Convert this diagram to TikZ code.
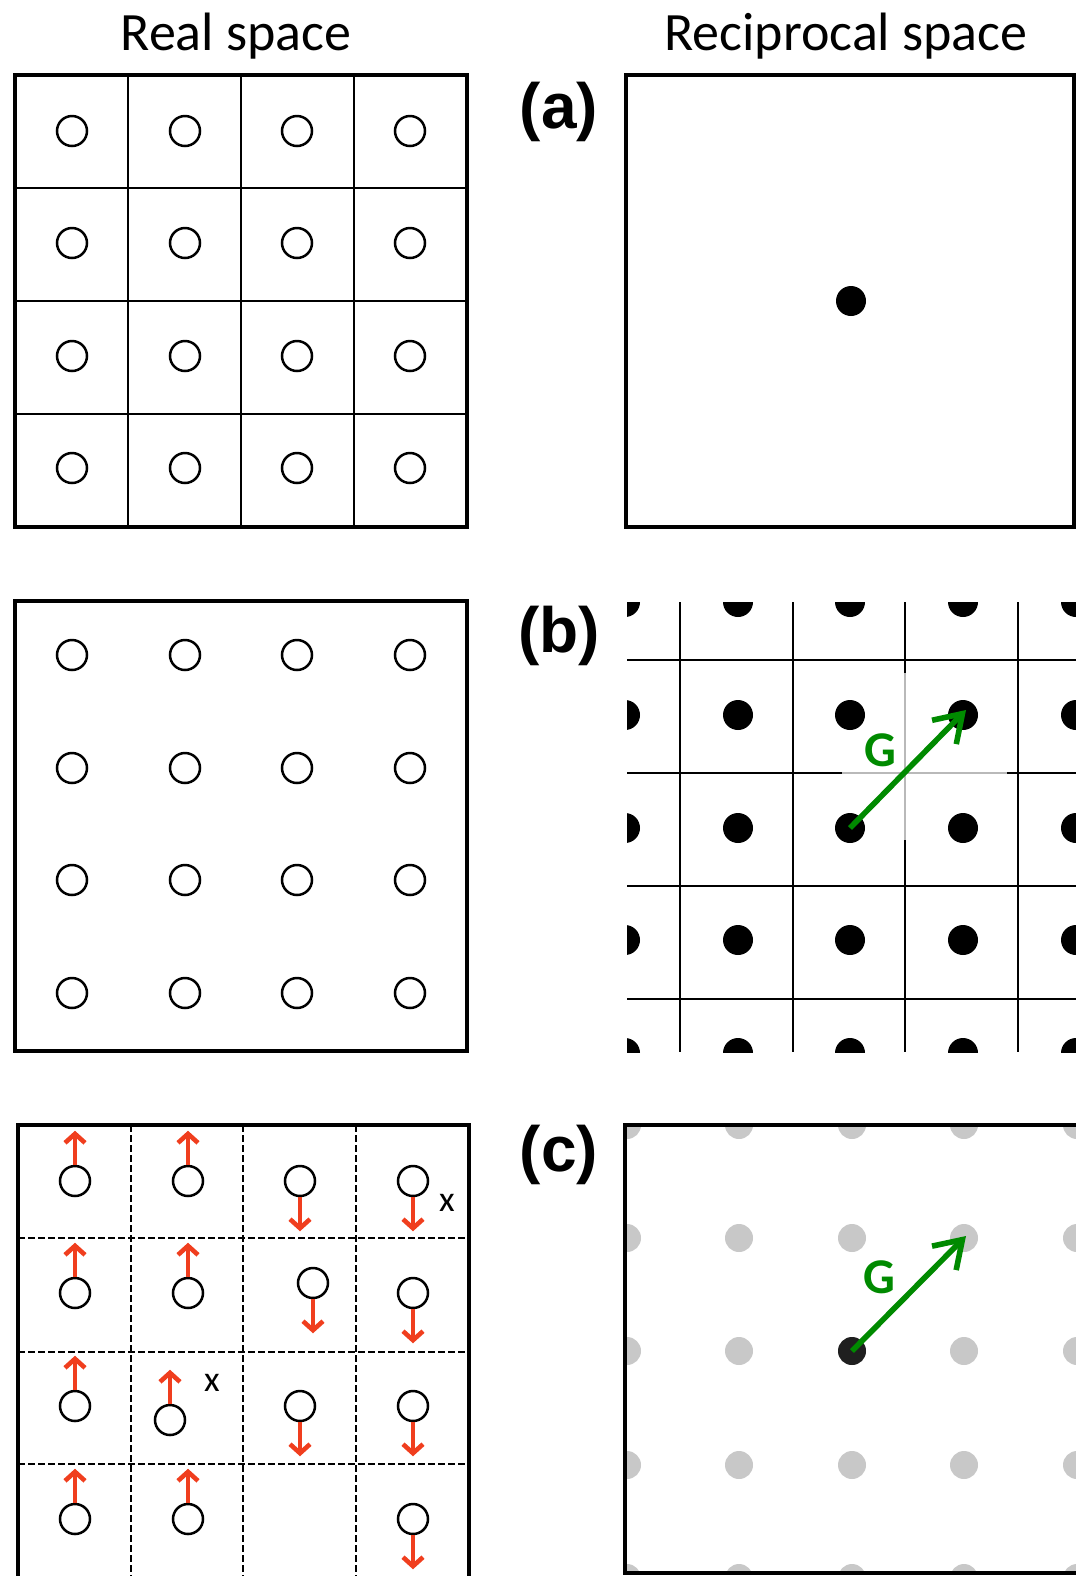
\documentclass[tikz,border=0pt]{standalone}
\usepackage{fontspec}
\setmainfont{Carlito}
\newfontfamily\arialfont{Liberation Sans}
\usetikzlibrary{arrows.meta}

\definecolor{spinred}{RGB}{240,62,30}
\definecolor{vecgreen}{RGB}{0,138,0}
\definecolor{spotgray}{RGB}{200,200,200}

\tikzset{
  ramec/.style={line width=1.6pt},
  bunka/.style={line width=1.4pt},
  carka/.style={line width=0.8pt, dash pattern=on 3.5pt off 1.5pt},
  atom/.style={circle, draw, line width=1.25pt, minimum size=15pt, inner sep=0pt},
  bod/.style={circle, fill=black, minimum size=15pt, inner sep=0pt},
  sedybod/.style={circle, fill=spotgray, minimum size=14pt, inner sep=0pt},
  spin/.style={draw=spinred, line width=2.3pt, -{Straight Barb[length=4.5pt,width=10pt]}},
  vektor/.style={draw=vecgreen, line width=2.8pt, -{Straight Barb[length=13pt,width=17pt]}},
  nadpis/.style={anchor=base, font=\fontsize{27}{32}\selectfont},
  panel/.style={font=\arialfont\bfseries\fontsize{32}{36}\selectfont},
  glabel/.style={text=vecgreen, font=\bfseries\fontsize{25}{30}\selectfont},
  xlabel/.style={font=\fontsize{18}{20}\selectfont}
}

\begin{document}
\begin{tikzpicture}[x=0.5pt, y=-0.5pt]
        \useasboundingbox (0,0) rectangle (1076,1576);

        % nadpisy
        \node[nadpis] (treal) at (236,50) {Real space};
        \node[nadpis] (trec) at (846,50) {Reciprocal space};

        % oznaceni panelu
        \node[panel] (pa) at (559,112) {(a)};
        \node[panel] (pb) at (559,636) {(b)};
        \node[panel] (pc) at (559,1155) {(c)};

        % (a) realny prostor
        \draw[ramec] (15,75) rectangle (467,527);
        \foreach \x in {128,241,354} \draw[bunka] (\x,75) -- (\x,527);
        \foreach \y in {188,301,414} \draw[bunka] (15,\y) -- (467,\y);
        \foreach \i/\x in {1/72,2/185,3/297,4/410}
          \foreach \j/\y in {1/131,2/243,3/356,4/468}
            \node[atom] (a\i\j) at (\x,\y) {};

        % (a) reciproky prostor
        \draw[ramec] (626,75) rectangle (1074,527);
        \node[bod] (ra) at (851,301) {};

        % (b) realny prostor
        \draw[ramec] (15,601) rectangle (467,1051);
        \foreach \i/\x in {1/72,2/185,3/297,4/410}
          \foreach \j/\y in {1/655,2/768,3/880,4/993}
            \node[atom] (b\i\j) at (\x,\y) {};

        % (b) reciproka mrizka
        \begin{scope}
          \clip (627,602) rectangle (1076,1052);
          \foreach \x in {680,793,905,1018} \draw[bunka] (\x,602) -- (\x,1052);
          \foreach \y in {660,773,886,999} \draw[bunka] (627,\y) -- (1076,\y);
          \fill[white] (842,673) rectangle (1007,840);
          \draw[gray!55, line width=0.7pt] (905,673) -- (905,840) (842,773) -- (1007,773);
          \foreach \i/\x in {0/625,1/738,2/850,3/963,4/1076}
            \foreach \j/\y in {0/602,1/715,2/828,3/940,4/1053}
              \node[bod] (rb\i\j) at (\x,\y) {};
        \end{scope}
        \coordinate (gb) at (966,710);
        \draw[vektor] (rb22.center) -- (gb);
        \node[glabel] (lgb) at (880,750) {G};

        % (c) realny prostor se spiny
        \draw[ramec] (18,1580) -- (18,1125) -- (469,1125) -- (469,1580);
        \foreach \x in {131,243,356} \draw[carka] (\x,1125) -- (\x,1580);
        \foreach \y in {1238,1352,1464} \draw[carka] (18,\y) -- (469,\y);

        \foreach \n/\x/\y in {11/75/1181,21/188/1181,12/75/1293,22/188/1293,
                               13/75/1406,23/170/1420,14/75/1519,24/188/1519}{
          \node[atom] (c\n) at (\x,\y) {};
          \draw[spin] (c\n.north) -- ++(0,-34);
        }
        \foreach \n/\x/\y in {31/300/1181,41/413/1181,32/313/1283,42/413/1293,
                               33/300/1406,43/413/1406,44/413/1519}{
          \node[atom] (c\n) at (\x,\y) {};
          \draw[spin] (c\n.south) -- ++(0,34);
        }
        \node[xlabel] (x1) at (447,1203) {x};
        \node[xlabel] (x2) at (212,1383) {x};

        % (c) reciproky prostor
        \begin{scope}
          \clip (625,1125) rectangle (1076,1573);
          \foreach \i/\x in {0/627,1/739,2/852,3/964,4/1077}
            \foreach \j/\y in {0/1125,1/1238,2/1351,3/1465,4/1578}
              \node[sedybod] (rc\i\j) at (\x,\y) {};
        \end{scope}
        \node[bod, fill=black!88, minimum size=14pt] (rc0) at (852,1351) {};
        \draw[ramec] (1080,1125) -- (625,1125) -- (625,1573) -- (1080,1573);
        \coordinate (gc) at (966,1236);
        \draw[vektor] (rc0.center) -- (gc);
        \node[glabel] (lgc) at (879,1277) {G};
    \end{tikzpicture}
\end{document}
